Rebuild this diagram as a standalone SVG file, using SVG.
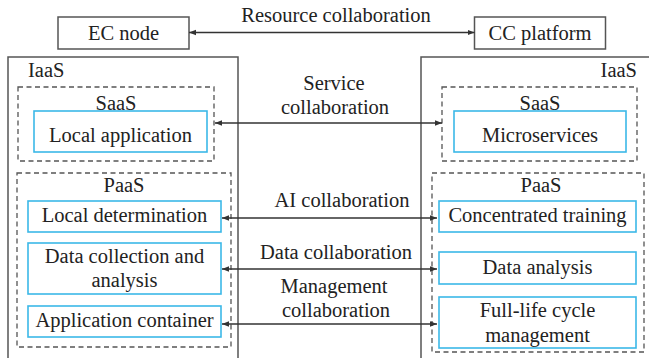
<svg xmlns="http://www.w3.org/2000/svg" width="649" height="358" viewBox="0 0 649 358" font-family="'Liberation Serif', Tinos, 'Times New Roman', Times, 'DejaVu Serif', serif">
<style>
text{font-family:'Liberation Serif', Tinos, 'Times New Roman', Times, 'DejaVu Serif', serif;font-size:20.5px;fill:#222;text-anchor:middle}
.solid{fill:#fff;stroke:#555;stroke-width:1.5}
.dash{fill:none;stroke:#555;stroke-width:1.3;stroke-dasharray:5 3.5}
.blue{fill:#fff;stroke:#3bb8e8;stroke-width:1.6}
.conn{stroke:#333;stroke-width:1.3;fill:none;marker-start:url(#ah);marker-end:url(#ah)}
</style>
<defs>
<marker id="ah" viewBox="0 0 10 10" refX="10" refY="5" markerWidth="7" markerHeight="7" orient="auto-start-reverse" markerUnits="userSpaceOnUse">
<path d="M0,1 L10,5 L0,9 Z" fill="#333"/>
</marker>
</defs>
<rect width="649" height="358" fill="#fff"/>
<g id="ec-node"><rect class="solid" x="58" y="17" width="131" height="32"/><text x="123.5" y="40">EC node</text></g>
<g id="cc-platform"><rect class="solid" x="474.5" y="17" width="131" height="32"/><text x="540" y="40">CC platform</text></g>
<g id="left-iaas"><rect class="solid" x="8" y="57" width="230" height="330"/><text x="28" y="77" style="text-anchor:start">IaaS</text></g>
<g id="right-iaas"><rect class="solid" x="421" y="57" width="260" height="330"/><text x="637" y="77" style="text-anchor:end">IaaS</text></g>
<g id="left-saas"><rect class="dash" x="18" y="87" width="196" height="74"/><text x="116" y="110">SaaS</text></g>
<g id="right-saas"><rect class="dash" x="442" y="87" width="195" height="74"/><text x="540" y="110">SaaS</text></g>
<g id="left-paas"><rect class="dash" x="17" y="173" width="214" height="174"/><text x="124" y="192">PaaS</text></g>
<g id="right-paas"><rect class="dash" x="432" y="173" width="212" height="179"/><text x="541" y="192">PaaS</text></g>
<g id="local-application"><rect class="blue" x="34" y="111" width="173" height="41"/><text x="120.5" y="142">Local application</text></g>
<g id="microservices"><rect class="blue" x="454" y="111" width="172" height="41"/><text x="540" y="142">Microservices</text></g>
<g id="local-determination"><rect class="blue" x="28" y="201" width="193" height="31"/><text x="124.5" y="222">Local determination</text></g>
<g id="data-collection"><rect class="blue" x="28" y="243" width="193" height="51"/><text x="124.5" y="263">Data collection and</text><text x="124.5" y="287">analysis</text></g>
<g id="application-container"><rect class="blue" x="28" y="306" width="193" height="31"/><text x="124.5" y="327">Application container</text></g>
<g id="concentrated-training"><rect class="blue" x="439" y="201" width="197" height="31"/><text x="537.5" y="222">Concentrated training</text></g>
<g id="data-analysis"><rect class="blue" x="439" y="252" width="197" height="32"/><text x="537.5" y="274">Data analysis</text></g>
<g id="full-life-cycle"><rect class="blue" x="439" y="297" width="197" height="51"/><text x="537.5" y="317">Full-life cycle</text><text x="537.5" y="342">management</text></g>
<g id="connectors">
<line class="conn" x1="189" y1="32.5" x2="474.5" y2="32.5"/>
<line class="conn" x1="215" y1="123" x2="442" y2="123"/>
<line class="conn" x1="222" y1="218" x2="437" y2="218"/>
<line class="conn" x1="222" y1="269" x2="437" y2="269"/>
<line class="conn" x1="222" y1="324" x2="437" y2="324"/>
<text x="336" y="22">Resource collaboration</text>
<text x="334" y="90">Service</text>
<text x="335" y="114">collaboration</text>
<text x="342" y="207">AI collaboration</text>
<text x="336" y="259">Data collaboration</text>
<text x="334" y="293">Management</text>
<text x="336" y="317">collaboration</text>
</g>
</svg>
